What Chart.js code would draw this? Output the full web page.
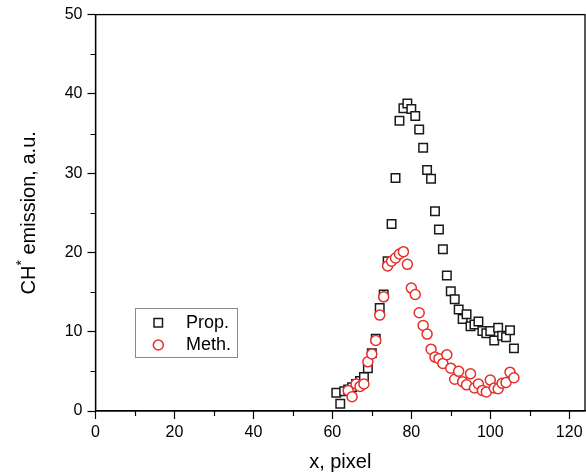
<!DOCTYPE html>
<html>
<head>
<meta charset="utf-8">
<script src="https://cdn.jsdelivr.net/npm/chart.js@4.4.1/dist/chart.umd.min.js"></script>
<style>
  html, body { margin: 0; padding: 0; background: #ffffff; }
  #wrap { width: 586px; height: 475px; }
</style>
</head>
<body>
<div id="wrap"><canvas id="c" width="586" height="475"></canvas></div>
<script>
// Pixel positions along the flame and CH* emission intensity (a.u.)
const pixelProp = [61, 62, 63, 64, 65, 66, 67, 68, 69, 70, 71, 72, 73, 74, 75, 76, 77, 78, 79, 80,
                   81, 82, 83, 84, 85, 86, 87, 88, 89, 90, 91, 92, 93, 94, 95, 96, 97, 98, 99, 100,
                   101, 102, 103, 104, 105, 106];
const propEmission = [2.3, 0.9, 2.5, 2.7, 3.0, 3.4, 3.8, 4.3, 5.4, 7.3, 9.1, 13.0, 14.7, 18.9, 23.6, 29.4, 36.6, 38.2, 38.8, 38.1,
                      37.2, 35.5, 33.2, 30.4, 29.3, 25.2, 22.9, 20.4, 17.1, 15.1, 14.1, 12.8, 11.6, 12.2, 10.7, 10.9, 11.3, 10.1, 9.8, 10.1,
                      8.9, 10.5, 9.5, 9.3, 10.2, 7.9];

const pixelMeth = [64, 65, 66, 67, 68, 69, 70, 71, 72, 73, 74, 75, 76, 77, 78, 79, 80,
                   81, 82, 83, 84, 85, 86, 87, 88, 89, 90, 91, 92, 93, 94, 95, 96, 97, 98, 99, 100,
                   101, 102, 103, 104, 105, 106];
const methEmission = [2.6, 1.8, 3.4, 3.1, 3.4, 6.2, 7.2, 8.9, 12.1, 14.4, 18.3, 18.9, 19.3, 19.8, 20.1, 18.5, 15.5,
                      14.7, 12.4, 10.8, 9.7, 7.8, 6.8, 6.6, 6.0, 7.1, 5.4, 4.0, 5.0, 3.7, 3.3, 4.7, 2.9, 3.4, 2.6, 2.4, 3.9,
                      2.9, 2.8, 3.5, 3.6, 4.9, 4.2];

const seriesNames = ['Prop.', 'Meth.'];
const xTitle = 'x, pixel';
const yTitleParts = ['CH', '*', ' emission, a.u.'];
const xMinorTicks = [10, 30, 50, 70, 90, 110];
const yMinorTicks = [5, 15, 25, 35, 45];

const FONT = '"Liberation Sans", Arial, Helvetica, sans-serif';
const INK = '#000000';
const PROP_COLOR = '#1a1a1a';
const METH_COLOR = '#e3302a';

const toPoints = (xs, ys) => xs.map((x, i) => ({ x: x, y: ys[i] }));

// Box around the plot area, minor ticks, axis titles and the inset legend
const decorations = {
  id: 'decorations',
  afterDraw(chart) {
    const ctx = chart.ctx;
    const a = chart.chartArea;
    const xs = chart.scales.x;
    const ys = chart.scales.y;
    ctx.save();
    ctx.strokeStyle = INK;
    ctx.lineWidth = 1.3;
    ctx.strokeRect(a.left, a.top, a.right - a.left, a.bottom - a.top);

    ctx.lineWidth = 1.2;
    ctx.beginPath();
    xMinorTicks.forEach(v => {
      const px = Math.round(xs.getPixelForValue(v)) + 0.5;
      ctx.moveTo(px, a.bottom);
      ctx.lineTo(px, a.bottom + 5);
    });
    yMinorTicks.forEach(v => {
      const py = Math.round(ys.getPixelForValue(v)) + 0.5;
      ctx.moveTo(a.left - 5, py);
      ctx.lineTo(a.left, py);
    });
    ctx.stroke();

    // x axis title
    ctx.fillStyle = INK;
    ctx.font = '20px ' + FONT;
    ctx.textAlign = 'center';
    ctx.textBaseline = 'middle';
    ctx.fillText(xTitle, (a.left + a.right) / 2, 462);

    // y axis title with superscript asterisk
    ctx.save();
    ctx.translate(28, (a.top + a.bottom) / 2);
    ctx.rotate(-Math.PI / 2);
    const big = '20px ' + FONT;
    const small = '14px ' + FONT;
    ctx.font = big;
    const w0 = ctx.measureText(yTitleParts[0]).width;
    const w2 = ctx.measureText(yTitleParts[2]).width;
    ctx.font = small;
    const w1 = ctx.measureText(yTitleParts[1]).width;
    const x0 = -(w0 + w1 + w2) / 2;
    ctx.textAlign = 'left';
    ctx.textBaseline = 'alphabetic';
    ctx.font = big;
    ctx.fillText(yTitleParts[0], x0, 7);
    ctx.font = small;
    ctx.fillText(yTitleParts[1], x0 + w0, -2);
    ctx.font = big;
    ctx.fillText(yTitleParts[2], x0 + w0 + w1, 7);
    ctx.restore();

    // legend
    ctx.strokeStyle = '#8a8a8a';
    ctx.lineWidth = 1;
    ctx.strokeRect(135.5, 308.5, 102, 49);
    ctx.lineWidth = 1.5;
    ctx.strokeStyle = PROP_COLOR;
    ctx.strokeRect(154, 318.5, 8.5, 8.5);
    ctx.strokeStyle = METH_COLOR;
    ctx.beginPath();
    ctx.arc(158.3, 345, 5, 0, Math.PI * 2);
    ctx.stroke();
    ctx.fillStyle = INK;
    ctx.font = '18px ' + FONT;
    ctx.textAlign = 'left';
    ctx.textBaseline = 'middle';
    ctx.fillText(seriesNames[0], 186, 323);
    ctx.fillText(seriesNames[1], 186, 345);
    ctx.restore();
  }
};

new Chart(document.getElementById('c'), {
  type: 'scatter',
  data: {
    datasets: [
      {
        label: seriesNames[0],
        data: toPoints(pixelProp, propEmission),
        pointStyle: 'rect',
        pointRadius: 6,
        pointBorderWidth: 1.5,
        borderColor: PROP_COLOR,
        backgroundColor: '#ffffff',
        order: 2
      },
      {
        label: seriesNames[1],
        data: toPoints(pixelMeth, methEmission),
        pointStyle: 'circle',
        pointRadius: 5,
        pointBorderWidth: 1.5,
        borderColor: METH_COLOR,
        backgroundColor: '#ffffff',
        order: 1
      }
    ]
  },
  options: {
    responsive: false,
    animation: false,
    devicePixelRatio: 1,
    layout: { autoPadding: false, padding: { top: 14, right: 1, left: 0, bottom: 0 } },
    plugins: {
      legend: { display: false },
      tooltip: { enabled: false }
    },
    scales: {
      x: {
        type: 'linear',
        position: 'bottom',
        min: 0,
        max: 124,
        afterFit: s => { s.height = 64; s.paddingLeft = 0; s.paddingRight = 0; },
        border: { color: INK, width: 1.3 },
        grid: { drawOnChartArea: false, tickLength: 8, tickColor: INK, tickWidth: 1.2 },
        ticks: {
          stepSize: 20,
          includeBounds: false,
          maxRotation: 0,
          padding: 4,
          color: INK,
          font: { size: 16, family: FONT }
        }
      },
      y: {
        type: 'linear',
        min: 0,
        max: 50,
        afterFit: s => { s.width = 95.5; },
        border: { color: INK, width: 1.3 },
        grid: { drawOnChartArea: false, tickLength: 8, tickColor: INK, tickWidth: 1.2 },
        ticks: {
          stepSize: 10,
          padding: 5,
          color: INK,
          font: { size: 16, family: FONT }
        }
      }
    }
  },
  plugins: [decorations]
});
</script>
</body>
</html>
